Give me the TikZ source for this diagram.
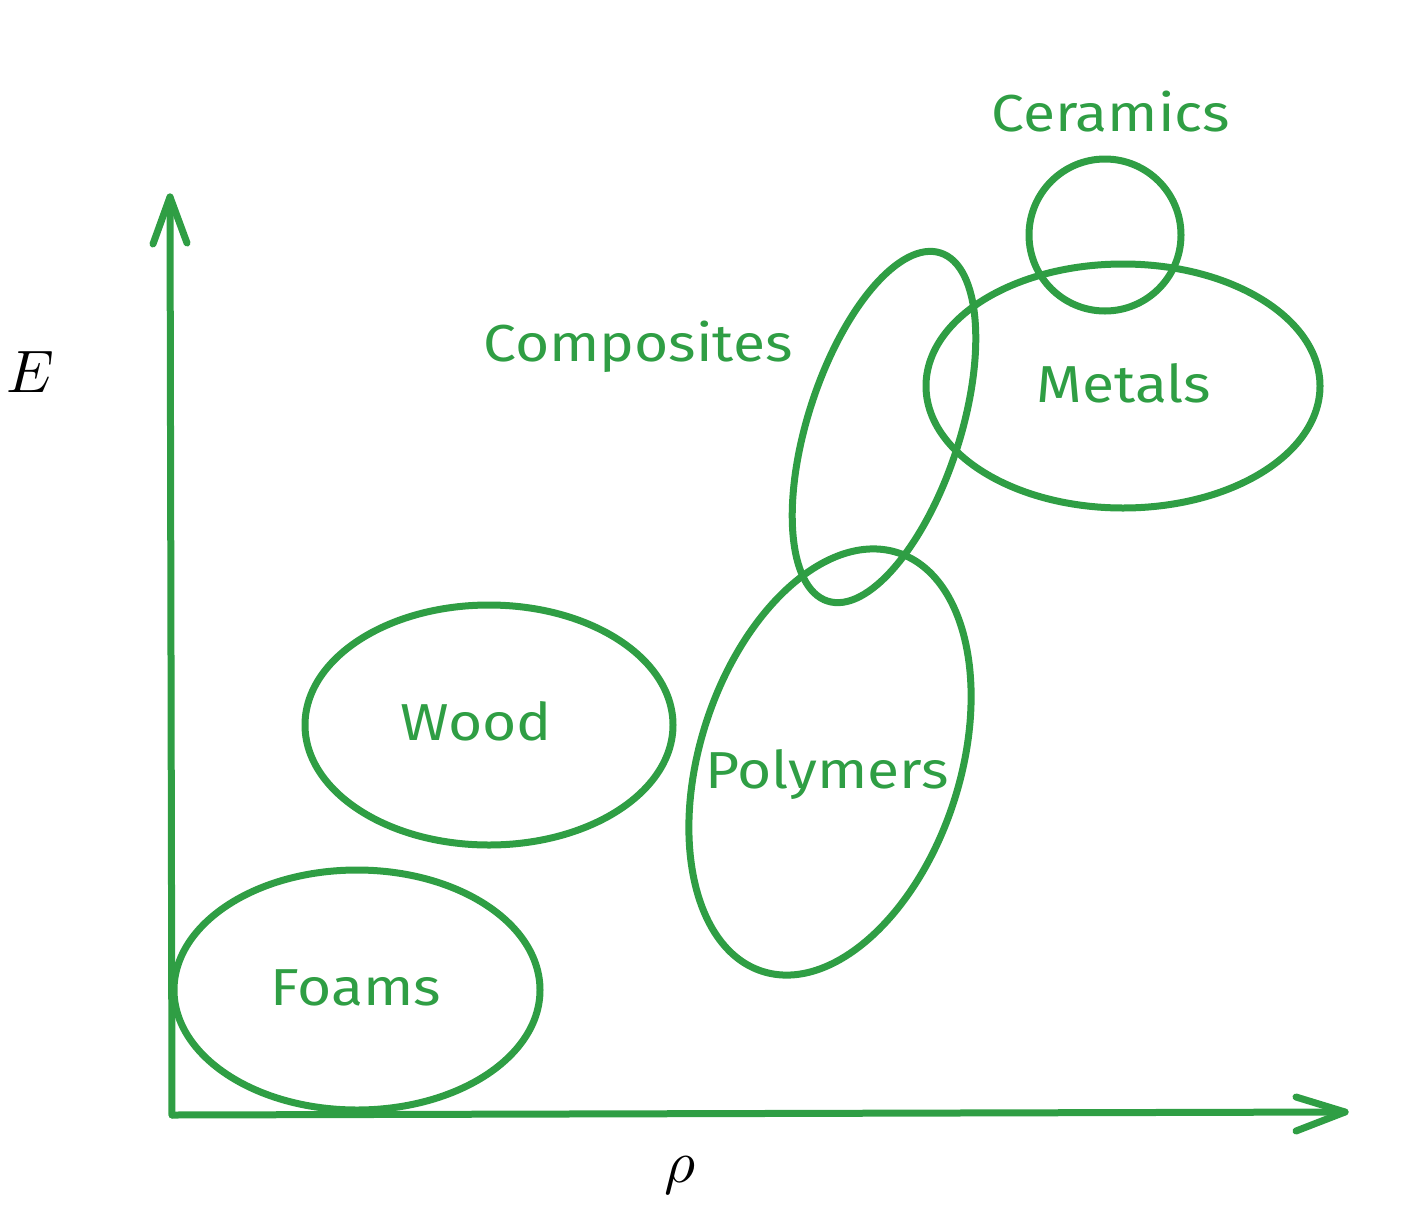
\documentclass[tikz,border=0pt]{standalone}
\usepackage{fontspec}
\newfontfamily\handfont[FakeStretch=1.13]{Fira Sans}
\definecolor{exgreen}{HTML}{2F9E44}
\tikzset{
  blob/.style={draw=exgreen, line width=7pt},
  axisline/.style={draw=exgreen, line width=7pt, line cap=round, line join=round},
  lbl/.style={text=exgreen, font=\handfont\fontsize{52}{60}\selectfont, inner sep=0pt, anchor=base},
  mathlbl/.style={text=black, inner sep=0pt, scale=6}
}
\begin{document}
\begin{tikzpicture}[x=1pt,y=-1pt]
\useasboundingbox (0,0) rectangle (1403,1216);
% axes
\coordinate (O) at (172,1115);
\coordinate (ytip) at (170,197);
\coordinate (xtip) at (1345,1112);
\coordinate (yb1) at (153,244);
\coordinate (yb2) at (187,243);
\coordinate (xb1) at (1296,1097);
\coordinate (xb2) at (1296,1131);
\draw[axisline] (O) -- (ytip);
\draw[axisline] (yb1) -- (ytip) -- (yb2);
\draw[axisline] (O) -- (xtip);
\draw[axisline] (xb1) -- (xtip) -- (xb2);
% regions
\draw[blob] (357,990) ellipse [x radius=183, y radius=120];
\draw[blob] (489,725) ellipse [x radius=184, y radius=120];
\draw[blob, rotate around={72:(830,762)}] (830,762) ellipse [x radius=220, y radius=130];
\draw[blob, rotate around={72:(884,427)}] (884,427) ellipse [x radius=183, y radius=76];
\draw[blob] (1123,386) ellipse [x radius=197, y radius=122];
\draw[blob] (1105,235) circle [radius=76];
% labels
\node[lbl] (ceramics) at (1111,131) {Ceramics};
\node[lbl] (composites) at (638,361) {Composites};
\node[lbl] (metals) at (1124,402) {Metals};
\node[lbl] (wood) at (476,740) {Wood};
\node[lbl] (polymers) at (827,788) {Polymers};
\node[lbl] (foams) at (356,1005) {Foams};
\node[mathlbl] (E) at (30,372) {$E$};
\node[mathlbl] (rho) at (680,1175) {$\rho$};
\end{tikzpicture}
\end{document}
